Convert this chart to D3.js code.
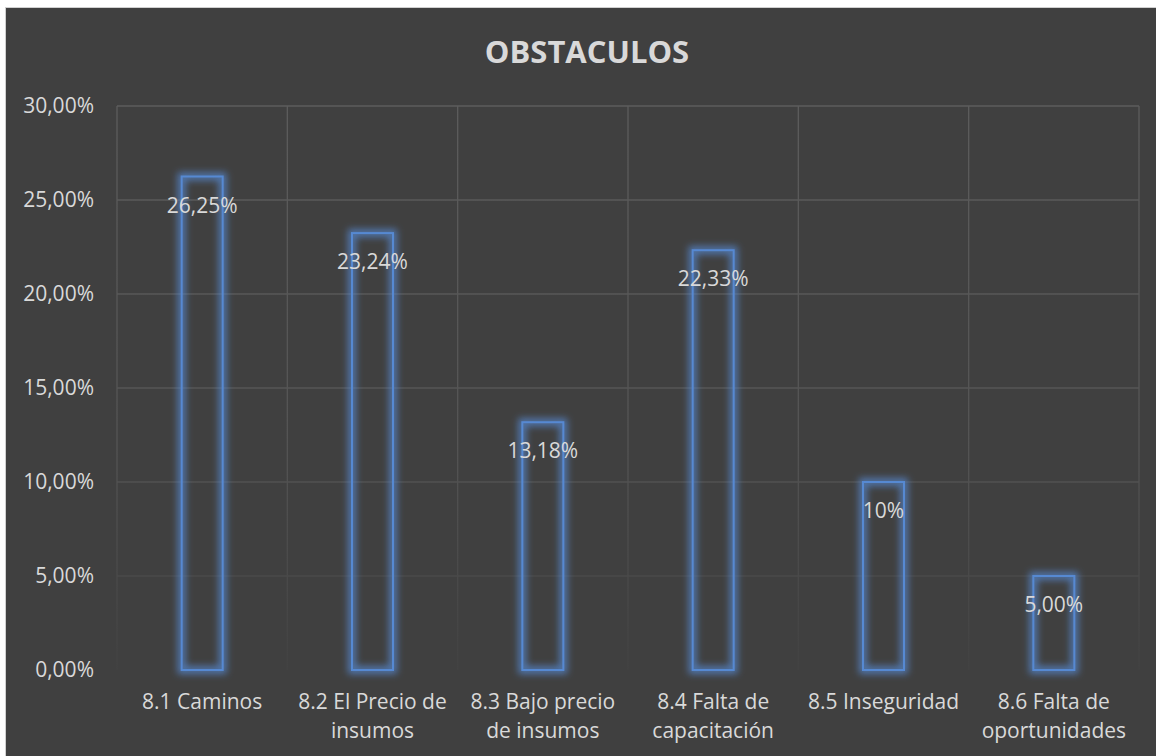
<!DOCTYPE html>
<html><head><meta charset="utf-8">
<script src="https://cdn.jsdelivr.net/npm/d3@7/dist/d3.min.js"></script>
<style>html,body{margin:0;padding:0;background:#fff;overflow:hidden}</style>
</head><body>
<svg id="c" width="1156" height="756"></svg>
<script>
const title = "OBSTACULOS";
const categories = [["8.1 Caminos"],["8.2 El Precio de","insumos"],["8.3 Bajo precio","de insumos"],["8.4 Falta de","capacitación"],["8.5 Inseguridad"],["8.6 Falta de","oportunidades"]];
const values = [26.25, 23.24, 13.18, 22.33, 10, 5.00];
const valueLabels = ["26,25%","23,24%","13,18%","22,33%","10%","5,00%"];
const yTicks = [0,5,10,15,20,25,30];
const yTickLabels = ["0,00%","5,00%","10,00%","15,00%","20,00%","25,00%","30,00%"];

const svg = d3.select("#c");
const font = "'Open Sans', sans-serif";
const txt = "#d9d9d9";
svg.append("rect").attr("x",5.5).attr("y",7.5).attr("width",1200).attr("height",800)
  .attr("fill","#404040").attr("stroke","#d0d0d0").attr("stroke-width",1);

const defs = svg.append("defs");
const g1 = defs.append("linearGradient").attr("id","gridGrad").attr("gradientUnits","userSpaceOnUse")
  .attr("x1",0).attr("y1",106).attr("x2",0).attr("y2",670);
g1.append("stop").attr("offset","0").attr("stop-color","#5c5c5c");
g1.append("stop").attr("offset","0.6").attr("stop-color","#545454");
g1.append("stop").attr("offset","1").attr("stop-color","#424242");
const f = defs.append("filter").attr("id","glow").attr("x","-50%").attr("y","-20%").attr("width","200%").attr("height","140%");
f.append("feMorphology").attr("in","SourceGraphic").attr("operator","dilate").attr("radius",3).attr("result","d");
f.append("feGaussianBlur").attr("in","d").attr("stdDeviation",3.5).attr("result","b");
f.append("feComponentTransfer").attr("in","b").attr("result","b2")
  .append("feFuncA").attr("type","linear").attr("slope",0.75);
const m = f.append("feMerge");
m.append("feMergeNode").attr("in","b2");
m.append("feMergeNode").attr("in","SourceGraphic");

const L=117, R=1139, T=106, B=670;
const x = d3.scaleBand().domain(d3.range(categories.length)).range([L,R]).paddingInner(0).paddingOuter(0);
const y = d3.scaleLinear().domain([0,30]).range([B,T]);

// horizontal gridlines
svg.append("g").selectAll("line").data(yTicks.filter(t=>t>0)).join("line")
  .attr("x1",L).attr("x2",R).attr("y1",d=>y(d)).attr("y2",d=>y(d))
  .attr("stroke","url(#gridGrad)").attr("stroke-width",1.3);
// vertical gridlines
const vx = d3.range(categories.length+1).map(i=> i<categories.length ? x(i) : R);
svg.append("g").selectAll("line").data(vx).join("line")
  .attr("x1",d=>d).attr("x2",d=>d).attr("y1",T).attr("y2",B)
  .attr("stroke","url(#gridGrad)").attr("stroke-width",1.3);

// y axis labels
svg.append("g").selectAll("text").data(yTicks).join("text")
  .attr("x",94).attr("y",d=>y(d)).attr("dy","0.35em").attr("text-anchor","end")
  .attr("font-family",font).attr("font-size",21).attr("fill",txt)
  .text((d,i)=>yTickLabels[i]);

// bars
const bw = 41;
svg.append("g").selectAll("rect").data(values).join("rect")
  .attr("x",(d,i)=>x(i)+x.bandwidth()/2-bw/2).attr("y",d=>y(d))
  .attr("width",bw).attr("height",d=>B-y(d))
  .attr("fill","none").attr("stroke","#5789d2").attr("stroke-width",2)
  .attr("filter","url(#glow)");

// value labels
svg.append("g").selectAll("text").data(values).join("text")
  .attr("x",(d,i)=>x(i)+x.bandwidth()/2).attr("y",d=>y(d)+36)
  .attr("text-anchor","middle").attr("font-family",font).attr("font-size",21).attr("fill",txt)
  .text((d,i)=>valueLabels[i]);

// category labels
const cg = svg.append("g").selectAll("text").data(categories).join("text")
  .attr("x",(d,i)=>x(i)+x.bandwidth()/2).attr("y",709)
  .attr("text-anchor","middle").attr("font-family",font).attr("font-size",21).attr("fill",txt);
cg.selectAll("tspan").data(d=>d).join("tspan")
  .attr("x",function(){return this.parentNode.getAttribute("x");})
  .attr("dy",(d,i)=>i===0?0:29).text(d=>d);

// title
svg.append("text").attr("x",587).attr("y",63).attr("text-anchor","middle")
  .attr("font-family",font).attr("font-weight","bold").attr("font-size",31).attr("fill",txt)
  .text(title);
</script>
</body></html>
